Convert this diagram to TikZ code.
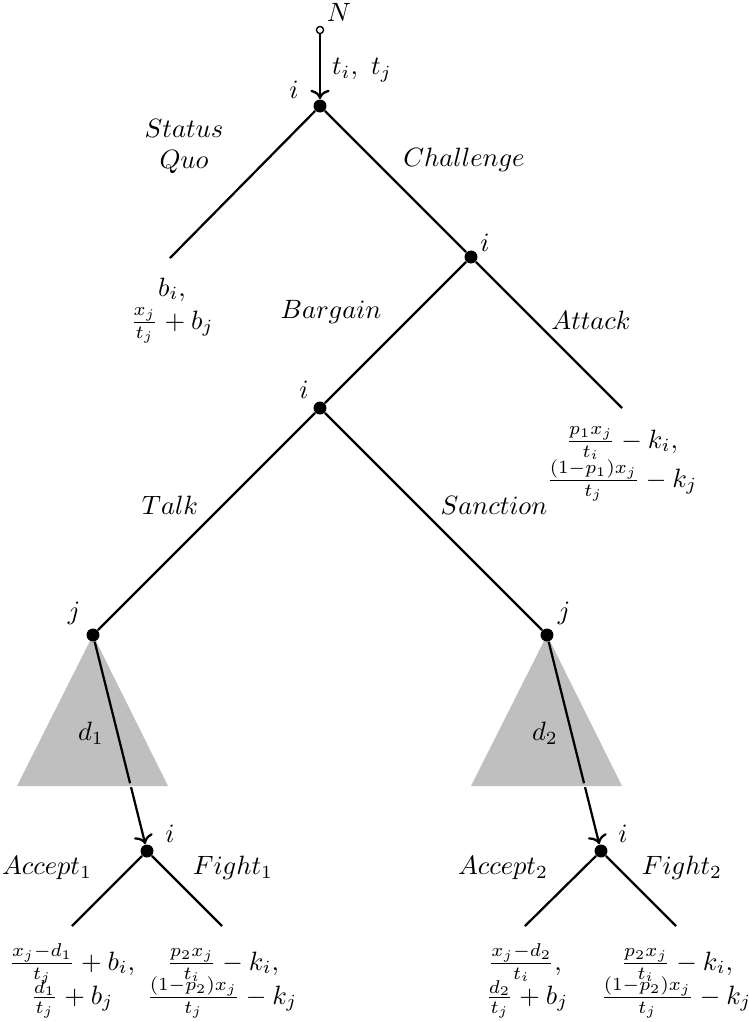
\documentclass[tikz,border=0pt]{standalone}
\usetikzlibrary{arrows.meta}
\begin{document}
\begin{tikzpicture}[x=0.3774pt,y=-0.3774pt,
  dot/.style={circle,fill=black,inner sep=0pt,minimum size=4.9pt},
  odot/.style={circle,draw=black,fill=white,line width=0.5pt,inner sep=0pt,minimum size=2.7pt},
  edge/.style={line width=0.85pt},
  arr/.style={line width=0.85pt,->},
  shade/.style={fill=black!25},
  lbl/.style={inner sep=0pt},
  pay/.style={inner sep=0pt,anchor=base}]
\useasboundingbox (0,0) rectangle (749,1022);
% triangles
\fill[shade] (93,635) -- (17,786) -- (168,786) -- cycle;
\fill[shade] (547,635) -- (471,786) -- (622,786) -- cycle;
% nodes
\node[odot] (N) at (320,30) {};
\node[dot] (r) at (320,106) {};
\node[dot] (c) at (471,257) {};
\node[dot] (b) at (320,408) {};
\node[dot] (j1) at (93,635) {};
\node[dot] (j2) at (547,635) {};
\node[dot] (i1) at (147,851) {};
\node[dot] (i2) at (601,851) {};
\coordinate (sq) at (170,258);
\coordinate (at) at (622,408);
\coordinate (a1) at (72,926);
\coordinate (f1) at (222,926);
\coordinate (a2) at (525,926);
\coordinate (f2) at (676,926);
% connectors
\draw[arr] (N) -- (r);
\draw[edge] (r) -- (sq);
\draw[edge] (r) -- (c);
\draw[edge] (c) -- (b);
\draw[edge] (c) -- (at);
\draw[edge] (b) -- (j1);
\draw[edge] (b) -- (j2);
\draw[edge] (i1) -- (a1);
\draw[edge] (i1) -- (f1);
\draw[edge] (i2) -- (a2);
\draw[edge] (i2) -- (f2);
\path (j1) -- (i1) coordinate[pos=0.699] (g1a) coordinate[pos=0.718] (g1b);
\path (j2) -- (i2) coordinate[pos=0.699] (g2a) coordinate[pos=0.718] (g2b);
\draw[edge] (j1) -- (g1a);
\draw[arr] (g1b) -- (i1);
\draw[edge] (j2) -- (g2a);
\draw[arr] (g2b) -- (i2);
% labels
\node[lbl] (lN) at (339,12) {$N$};
\node[lbl] (lt) at (362,70) {$t_i,\ t_j$};
\node[lbl] (li0) at (294,90) {$i$};
\node[lbl] (lst) at (184,128) {$Status$};
\node[lbl] (lquo) at (184,162) {$Quo$};
\node[lbl] (lch) at (464,160) {$Challenge$};
\node[lbl] (lic) at (485,243) {$i$};
\node[lbl] (lbg) at (331,312) {$Bargain$};
\node[lbl] (lat) at (591,320) {$Attack$};
\node[lbl] (lib) at (304,390) {$i$};
\node[lbl] (ltk) at (170,505) {$Talk$};
\node[lbl] (lsn) at (494,505) {$Sanction$};
\node[lbl] (lj1) at (74,613) {$j$};
\node[lbl] (lj2) at (564,613) {$j$};
\node[lbl] (ld1) at (91,733) {$d_1$};
\node[lbl] (ld2) at (545,733) {$d_2$};
\node[lbl] (li1) at (170,834) {$i$};
\node[lbl] (li2) at (623,834) {$i$};
\node[lbl] (lac1) at (47,868) {$Accept_1$};
\node[lbl] (lfi1) at (233,868) {$Fight_1$};
\node[lbl] (lac2) at (503,868) {$Accept_2$};
\node[lbl] (lfi2) at (682,868) {$Fight_2$};
% payoffs
\node[pay] (psq1) at (172,296) {$b_i,$};
\node[pay] (psq2) at (172,329) {$\frac{x_j}{t_j}+b_j$};
\node[pay] (pat1) at (622,448) {$\frac{p_1x_j}{t_i}-k_i,$};
\node[pay] (pat2) at (622,487) {$\frac{(1-p_1)x_j}{t_j}-k_j$};
\node[pay] (pa11) at (72,970) {$\frac{x_j-d_1}{t_j}+b_i,$};
\node[pay] (pa12) at (72,1004) {$\frac{d_1}{t_j}+b_j$};
\node[pay] (pf11) at (223,970) {$\frac{p_2x_j}{t_i}-k_i,$};
\node[pay] (pf12) at (222,1004) {$\frac{(1-p_2)x_j}{t_j}-k_j$};
\node[pay] (pa21) at (525,970) {$\frac{x_j-d_2}{t_i},$};
\node[pay] (pa22) at (527,1004) {$\frac{d_2}{t_j}+b_j$};
\node[pay] (pf21) at (677,970) {$\frac{p_2x_j}{t_i}-k_i,$};
\node[pay] (pf22) at (676,1004) {$\frac{(1-p_2)x_j}{t_j}-k_j$};
\end{tikzpicture}
\end{document}
